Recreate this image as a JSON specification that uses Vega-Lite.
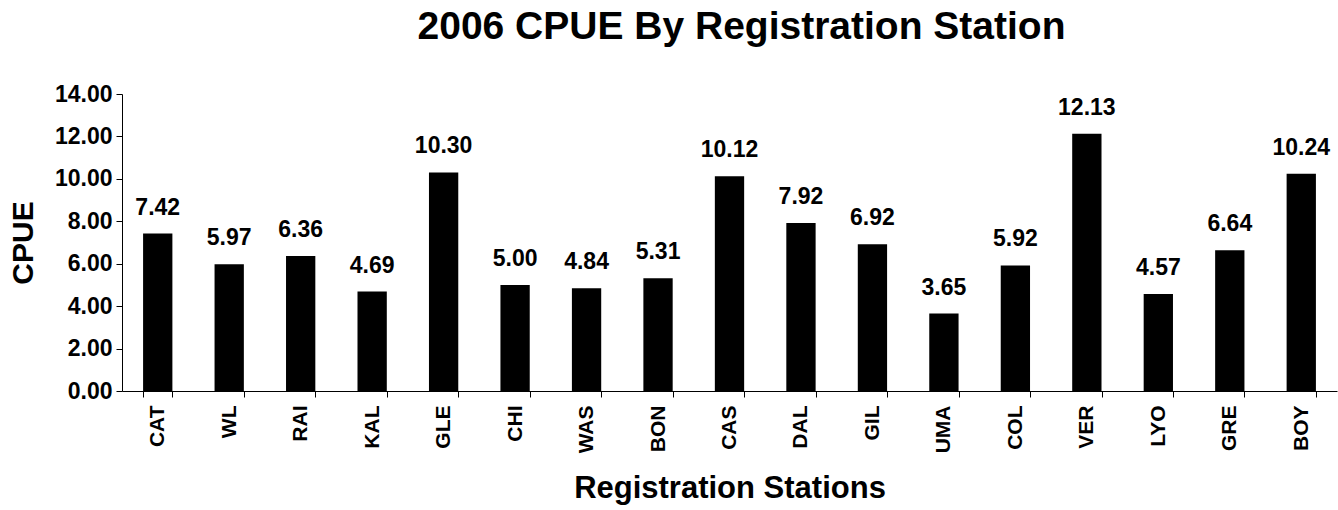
{
  "$schema": "https://vega.github.io/schema/vega-lite/v6.json",
  "width": 1215,
  "height": 297,
  "autosize": {"type": "none"},
  "padding": {"left": 122, "top": 94, "right": 1, "bottom": 119},
  "background": "white",
  "title": {
    "text": "2006 CPUE By Registration Station",
    "font": "Liberation Sans",
    "fontSize": 39,
    "fontWeight": "bold",
    "color": "black",
    "anchor": "middle",
    "dx": 12,
    "offset": 36
  },
  "config": {
    "view": {"stroke": null},
    "font": "Liberation Sans",
    "axis": {
      "domainColor": "black",
      "tickColor": "black",
      "labelColor": "black",
      "titleColor": "black",
      "labelFont": "Liberation Sans",
      "titleFont": "Liberation Sans",
      "labelFontWeight": "bold",
      "titleFontWeight": "bold",
      "grid": false,
      "tickSize": 6,
      "domainWidth": 1,
      "tickWidth": 1
    }
  },
  "data": {
    "values": [
      {"station": "CAT", "cpue": 7.42},
      {"station": "WL", "cpue": 5.97},
      {"station": "RAI", "cpue": 6.36},
      {"station": "KAL", "cpue": 4.69},
      {"station": "GLE", "cpue": 10.30},
      {"station": "CHI", "cpue": 5.00},
      {"station": "WAS", "cpue": 4.84},
      {"station": "BON", "cpue": 5.31},
      {"station": "CAS", "cpue": 10.12},
      {"station": "DAL", "cpue": 7.92},
      {"station": "GIL", "cpue": 6.92},
      {"station": "UMA", "cpue": 3.65},
      {"station": "COL", "cpue": 5.92},
      {"station": "VER", "cpue": 12.13},
      {"station": "LYO", "cpue": 4.57},
      {"station": "GRE", "cpue": 6.64},
      {"station": "BOY", "cpue": 10.24}
    ]
  },
  "encoding": {
    "x": {
      "field": "station",
      "type": "nominal",
      "sort": null,
      "scale": {"paddingInner": 0.59, "paddingOuter": 0.295},
      "axis": {
        "title": "Registration Stations",
        "titleFontSize": 31,
        "titlePadding": 21,
        "labelAngle": -90,
        "labelFontSize": 21,
        "labelPadding": 8,
        "tickBand": "extent"
      }
    },
    "y": {
      "field": "cpue",
      "type": "quantitative",
      "scale": {"domain": [0, 14], "nice": false},
      "axis": {
        "title": "CPUE",
        "titleFontSize": 30,
        "titlePadding": 16,
        "values": [0, 2, 4, 6, 8, 10, 12, 14],
        "format": ".2f",
        "labelFontSize": 23,
        "labelPadding": 4
      }
    }
  },
  "layer": [
    {"mark": {"type": "bar", "color": "black"}},
    {
      "mark": {
        "type": "text",
        "baseline": "alphabetic",
        "dy": -19,
        "fontSize": 23,
        "fontWeight": "bold",
        "color": "black",
        "font": "Liberation Sans"
      },
      "encoding": {
        "text": {"field": "cpue", "type": "quantitative", "format": ".2f"}
      }
    }
  ]
}
